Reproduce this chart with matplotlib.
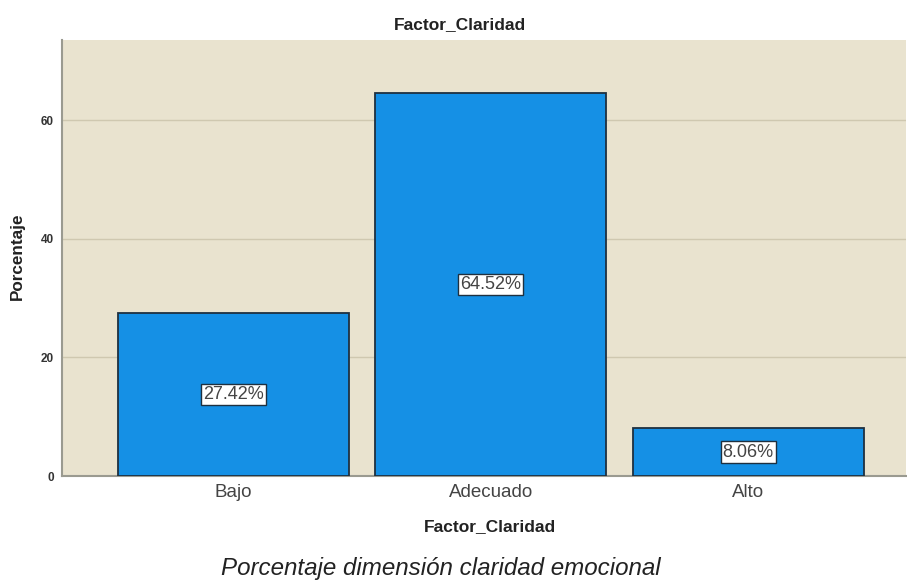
import matplotlib.pyplot as plt

plt.rcParams["font.family"] = ["Liberation Sans", "DejaVu Sans"]

categorias = ["Bajo", "Adecuado", "Alto"]
porcentajes = [27.42, 64.52, 8.06]
etiquetas = ["27.42%", "64.52%", "8.06%"]
ticks_y = [0, 20, 40, 60]

fig = plt.figure(figsize=(9.07, 5.83), dpi=100)
ax = fig.add_axes([0.0684, 0.1835, 0.931, 0.748])
ax.set_facecolor("#e9e3cf")

x = list(range(len(categorias)))
ax.bar(x, porcentajes, width=0.897, color="#1590e5", edgecolor="#1e3040",
       linewidth=1.3, zorder=3)

for xi, v, lab in zip(x, porcentajes, etiquetas):
    ax.text(xi, v / 2, lab, ha="center", va="center", fontsize=13,
            color="#444444", zorder=4,
            bbox=dict(boxstyle="square,pad=0.12", fc="white", ec="#1e3040", lw=1))

ax.set_xlim(-0.664, 2.614)
ax.set_ylim(0, 73.5)
ax.set_yticks(ticks_y)
ax.set_yticklabels([str(t) for t in ticks_y], fontsize=8.5, fontweight="bold", color="#333333")
ax.set_xticks(x)
ax.set_xticklabels(categorias, fontsize=13.5, color="#444444")
ax.tick_params(axis="both", length=0, pad=6)
ax.grid(axis="y", color="#cfc8b0", linewidth=1, zorder=0)
for s in ["top", "right"]:
    ax.spines[s].set_visible(False)
for s in ["left", "bottom"]:
    ax.spines[s].set_color("#9a9a90")
    ax.spines[s].set_linewidth(1.5)

ax.set_xlabel("Factor_Claridad", fontsize=12.5, fontweight="bold", color="#222222", va="center")
ax.xaxis.set_label_coords(0.507, -0.117)
ax.set_ylabel("Porcentaje", fontsize=12.3, fontweight="bold", color="#222222", va="center")
ax.yaxis.set_label_coords(-0.0533, 0.505)

fig.text(460 / 907, 1 - 25 / 583, "Factor_Claridad", ha="center", va="center",
         fontsize=12.5, fontweight="bold", color="#222222")
fig.text(441 / 907, 1 - 568 / 583, "Porcentaje dimensión claridad emocional",
         ha="center", va="center", fontsize=17.4, style="italic", color="#222222")

fig.savefig("out.png", dpi=100)
